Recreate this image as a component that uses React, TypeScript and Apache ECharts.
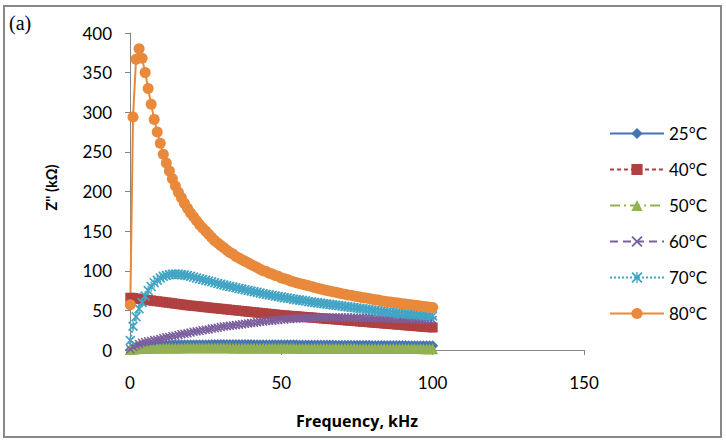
import React, { useEffect, useRef } from "react";
import * as echarts from "echarts";

const freq = [
  0.1, 1, 2, 3, 4, 5, 6, 7, 8, 9,
  10, 11, 12, 13, 14, 15, 16, 17, 18, 19,
  20, 21, 22, 23, 24, 25, 26, 27, 28, 29,
  30, 31, 32, 33, 34, 35, 36, 37, 38, 39,
  40, 41, 42, 43, 44, 45, 46, 47, 48, 49,
  50, 51, 52, 53, 54, 55, 56, 57, 58, 59,
  60, 61, 62, 63, 64, 65, 66, 67, 68, 69,
  70, 71, 72, 73, 74, 75, 76, 77, 78, 79,
  80, 81, 82, 83, 84, 85, 86, 87, 88, 89,
  90, 91, 92, 93, 94, 95, 96, 97, 98, 99,
  100,
];

const z25 = [
  0, 2, 3.5, 4.5, 5, 5.5, 5.8, 6, 6, 6.2,
  6.2, 6.3, 6.3, 6.4, 6.4, 6.5, 6.5, 6.5, 6.6, 6.6,
  6.6, 6.6, 6.7, 6.7, 6.7, 6.7, 6.7, 6.8, 6.8, 6.8,
  6.8, 6.8, 6.8, 6.8, 6.8, 6.8, 6.8, 6.8, 6.8, 6.8,
  6.8, 6.7, 6.7, 6.7, 6.7, 6.7, 6.7, 6.6, 6.6, 6.6,
  6.6, 6.6, 6.5, 6.5, 6.5, 6.5, 6.4, 6.4, 6.4, 6.4,
  6.3, 6.3, 6.3, 6.3, 6.2, 6.2, 6.2, 6.2, 6.1, 6.1,
  6.1, 6.1, 6, 6, 6, 6, 5.9, 5.9, 5.9, 5.9,
  5.8, 5.8, 5.8, 5.8, 5.7, 5.7, 5.7, 5.7, 5.6, 5.6,
  5.6, 5.6, 5.5, 5.5, 5.5, 5.5, 5.4, 5.4, 5.4, 5.4,
  5.3,
];

const z40 = [
  66, 65.5, 65, 64.5, 64, 63.5, 63, 62.5, 62, 61.5,
  61, 60.5, 60, 59.5, 59, 58.5, 58, 57.5, 57, 56.5,
  56, 55.7, 55.3, 55, 54.5, 54, 53.6, 53.2, 52.8, 52.4,
  52, 51.6, 51.2, 50.8, 50.4, 50, 49.6, 49.2, 48.8, 48.4,
  48, 47.6, 47.2, 46.8, 46.4, 46, 45.6, 45.2, 44.8, 44.4,
  44, 43.7, 43.4, 43.1, 42.8, 42.5, 42.2, 41.9, 41.6, 41.3,
  41, 40.7, 40.4, 40, 39.7, 39.4, 39.1, 38.8, 38.5, 38.2,
  37.8, 37.5, 37.2, 36.9, 36.6, 36.3, 36, 35.6, 35.3, 35,
  34.7, 34.4, 34.1, 33.8, 33.4, 33.1, 32.8, 32.5, 32.2, 31.9,
  31.6, 31.2, 30.9, 30.6, 30.3, 30, 29.6, 29.3, 29, 28.7,
  28.4,
];

const z50 = [
  0.5, 1, 1.5, 1.8, 2, 2.1, 2.2, 2.3, 2.3, 2.4,
  2.4, 2.5, 2.5, 2.5, 2.6, 2.6, 2.6, 2.6, 2.7, 2.7,
  2.7, 2.7, 2.7, 2.7, 2.7, 2.7, 2.7, 2.7, 2.7, 2.7,
  2.7, 2.7, 2.7, 2.7, 2.6, 2.6, 2.6, 2.6, 2.6, 2.6,
  2.6, 2.6, 2.5, 2.5, 2.5, 2.5, 2.5, 2.5, 2.5, 2.4,
  2.4, 2.4, 2.4, 2.4, 2.4, 2.3, 2.3, 2.3, 2.3, 2.3,
  2.3, 2.3, 2.2, 2.2, 2.2, 2.2, 2.2, 2.2, 2.1, 2.1,
  2.1, 2.1, 2.1, 2.1, 2.1, 2, 2, 2, 2, 2,
  2, 2, 2, 1.9, 1.9, 1.9, 1.9, 1.9, 1.9, 1.9,
  1.8, 1.8, 1.8, 1.8, 1.8, 1.8, 1.8, 1.7, 1.7, 1.7,
  1.7,
];

const z60 = [
  1, 4, 6, 7.5, 9, 10, 11, 11.5, 12.5, 13,
  14, 15, 16, 16.5, 17.5, 18, 19, 20, 20.5, 21,
  22, 23, 23.5, 24, 25, 25.5, 26, 27, 27.5, 28,
  29, 29.5, 30, 30.5, 31, 31.5, 32, 32.5, 33, 33.5,
  34, 34.5, 35, 35.5, 36, 36.5, 37, 37, 37.5, 38,
  38.5, 38.5, 39, 39, 39.5, 39.5, 40, 40, 40, 40.5,
  40.5, 40.5, 41, 41, 41, 41, 41, 41, 41, 41,
  41, 41, 41, 41, 41, 40.5, 40.5, 40.5, 40.5, 40.5,
  40.5, 40, 40, 40, 40, 40, 39.5, 39.5, 39.5, 39.5,
  39, 39, 39, 39, 38.5, 38.5, 38.5, 38, 38, 38,
  38,
];

const z70 = [
  12, 30, 42, 52, 60, 68, 75, 80, 85, 88,
  91, 93, 94, 95, 95.5, 95.5, 95.5, 95, 94.5, 94,
  93, 92, 91, 90, 89, 88, 87, 86, 85, 84,
  83, 82, 81, 80, 79.5, 78.5, 77.5, 77, 76, 75,
  74.5, 73.5, 73, 72, 71, 70.5, 69.5, 69, 68, 67.5,
  67, 66, 65.5, 65, 64, 63.5, 63, 62.5, 62, 61,
  60.5, 60, 59.5, 59, 58.5, 58, 57.5, 57, 56.5, 56,
  55.5, 55, 54.5, 54, 53.5, 53, 52.5, 52, 51.5, 51,
  50.5, 50, 49.5, 49, 48.5, 48, 47.5, 47, 47, 46.5,
  46, 46, 45.5, 45, 45, 44.5, 44, 44, 43.5, 43,
  43,
];

const z80 = [
  57, 294, 367, 380, 368, 350, 330, 310, 291, 275,
  261, 247, 236, 226, 216, 207, 199, 192, 185, 179,
  173, 168, 163, 158, 154, 150, 146, 142, 138, 135,
  132, 129, 126, 123, 121, 118, 116, 114, 112, 110,
  108, 106, 104, 102, 100, 99, 97, 96, 94, 93,
  91, 90, 89, 87, 86, 85, 84, 83, 82, 81,
  80, 79, 78, 77, 76, 75, 74.5, 73.5, 73, 72,
  71, 70.5, 69.5, 69, 68, 67.5, 67, 66, 65.5, 65,
  64, 63.5, 63, 62, 61.5, 61, 60.5, 60, 59.5, 59,
  58.5, 58, 57.5, 57, 56.5, 56, 55.5, 55, 54.5, 54,
  53.5,
];

const seriesNames = ["25°C", "40°C", "50°C", "60°C", "70°C", "80°C"];
const xTicks = [0, 50, 100, 150];
const yTicks = [0, 50, 100, 150, 200, 250, 300, 350, 400];

const X_SYMBOL =
  "path://M0,1.2 L1.2,0 L5,3.8 L8.8,0 L10,1.2 L6.2,5 L10,8.8 L8.8,10 L5,6.2 L1.2,10 L0,8.8 L3.8,5 Z";
const STAR_SYMBOL =
  "path://M0,1.2 L1.2,0 L5,3.8 L8.8,0 L10,1.2 L6.2,5 L10,8.8 L8.8,10 L5,6.2 L1.2,10 L0,8.8 L3.8,5 Z M4.4,0 L5.6,0 L5.6,10 L4.4,10 Z";

const FONT = "Lato, 'Open Sans', sans-serif";
const TITLE_FONT = "'Open Sans', Lato, sans-serif";

export default function App() {
  const ref = useRef<HTMLDivElement>(null);
  useEffect(() => {
    const chart = echarts.init(ref.current!, null, { renderer: "svg" });
    const pairs = (vals: number[]) => freq.map((f, i) => [f, vals[i]]);
    const styles = [
      { data: z25, color: "#4474B5", symbol: "diamond", size: 11, lw: 3.5, type: "solid" as any },
      { data: z40, color: "#B04140", symbol: "rect", size: 10, lw: 2, type: [4, 3] },
      { data: z50, color: "#93B152", symbol: "triangle", size: 11, lw: 2, type: [10, 4, 2, 4] },
      { data: z60, color: "#7B5F9E", symbol: X_SYMBOL, size: 9, lw: 2, type: [8, 5] },
      { data: z70, color: "#43A5C4", symbol: STAR_SYMBOL, size: 10, lw: 2, type: [2, 2] },
      { data: z80, color: "#E8893B", symbol: "circle", size: 11, lw: 2, type: "solid" },
    ];
    const axisColor = "#868686";
    chart.setOption({
      animation: false,
      backgroundColor: "#ffffff",
      textStyle: { fontFamily: FONT },
      grid: { left: 130, right: 142, top: 33, bottom: 92 },
      legend: {
        orient: "vertical",
        left: 609,
        top: 125,
        padding: 0,
        itemWidth: 54,
        itemHeight: 14,
        itemGap: 19,
        textStyle: { fontSize: 17, color: "#000", fontFamily: FONT, lineHeight: 17 },
        data: seriesNames,
      },
      xAxis: {
        type: "value",
        min: xTicks[0],
        max: xTicks[xTicks.length - 1],
        interval: 50,
        name: "Frequency, kHz",
        nameLocation: "middle",
        nameGap: 63,
        nameTextStyle: { fontSize: 16, fontWeight: "bold", color: "#000", fontFamily: TITLE_FONT },
        axisLine: { lineStyle: { color: axisColor, width: 1 } },
        axisTick: { show: true, length: 5, lineStyle: { color: axisColor } },
        axisLabel: { fontSize: 17, color: "#000", margin: 24, fontFamily: FONT },
        splitLine: { show: false },
      },
      yAxis: {
        type: "value",
        min: yTicks[0],
        max: yTicks[yTicks.length - 1],
        interval: 50,
        name: "Z'' (kΩ)",
        nameLocation: "middle",
        nameRotate: 90,
        nameGap: 71,
        nameTextStyle: { fontSize: 14.5, fontWeight: "bold", color: "#000", fontFamily: FONT, padding: [0, 0, 0, 8] },
        axisLine: { show: true, lineStyle: { color: axisColor, width: 1 } },
        axisTick: { show: true, length: 5, lineStyle: { color: axisColor } },
        axisLabel: { fontSize: 17, color: "#000", margin: 18, fontFamily: FONT },
        splitLine: { show: false },
      },
      series: styles.map((s, i) => ({
        name: seriesNames[i],
        type: "line",
        data: pairs(s.data),
        symbol: s.symbol,
        symbolSize: s.size,
        showSymbol: true,
        color: s.color,
        itemStyle: { color: s.color, borderWidth: 0 },
        lineStyle: { color: s.color, width: s.lw, type: s.type },
        emphasis: { disabled: true },
      })),
      graphic: [
        {
          type: "rect",
          shape: { x: 4, y: 6, width: 717, height: 431 },
          style: { fill: "none", stroke: "#888888", lineWidth: 2 },
          silent: true,
        },
        {
          type: "text",
          left: 9,
          top: 13,
          style: { text: "(a)", fontSize: 20, fontFamily: "'Liberation Serif', 'DejaVu Serif', serif", fill: "#000" },
        },
      ],
    });
    return () => chart.dispose();
  }, []);
  return (
    <div
      ref={ref}
      style={{ position: "fixed", left: 0, top: 0, width: 726, height: 442, background: "#fff" }}
    />
  );
}
